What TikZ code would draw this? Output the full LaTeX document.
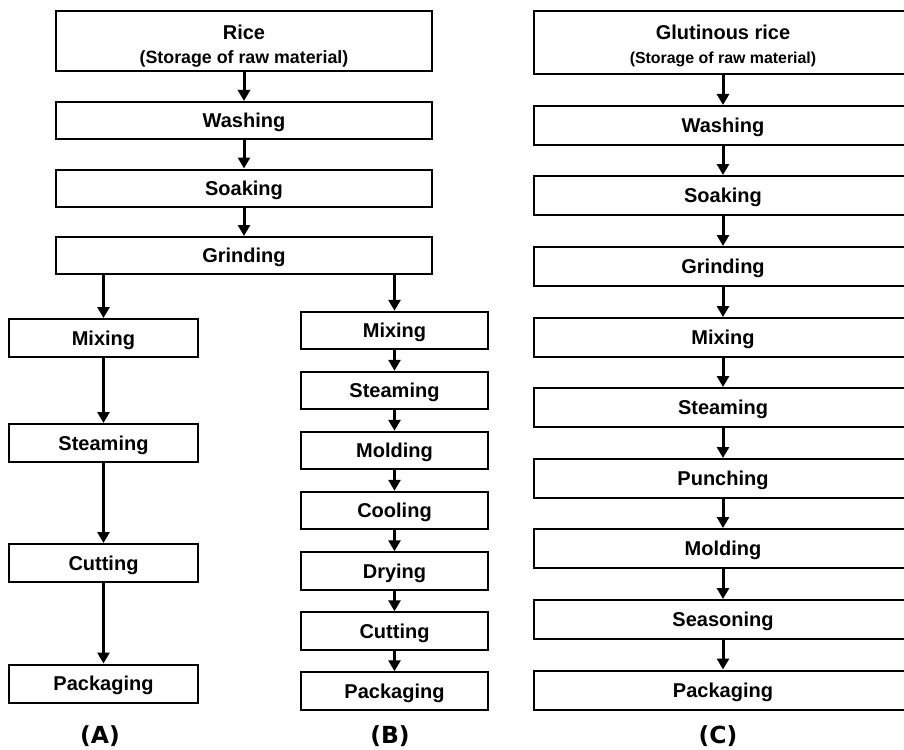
\documentclass[tikz,border=0pt]{standalone}
\usepackage{fontspec}
\setmainfont{Liberation Sans}
\newfontfamily\tagfont{DejaVu Sans}
\usetikzlibrary{arrows.meta}

\begin{document}
\begin{tikzpicture}[x=1pt, y=-1pt,
        box/.style={draw, line width=2pt, inner sep=0pt, text height=18pt, text depth=4pt,
            font=\bfseries\fontsize{20}{22}\selectfont},
        topbox/.style={draw, line width=2pt, inner sep=0pt, align=center,
            font=\bfseries\fontsize{20}{24}\selectfont},
        flow/.style={line width=3pt, -{Triangle[width=12pt,length=11pt]}},
        tag/.style={font=\tagfont\bfseries\fontsize{23.5}{26}\selectfont}]
        \clip (0,0) rectangle (904,749);
        % shared start of (A) and (B)
        \node[topbox, minimum width=376pt, minimum height=60pt] (rice) at (244,41)
            {\rule{0pt}{24pt}Rice\\{\fontsize{17.8}{18}\selectfont (Storage of raw material)}};
        \foreach \name/\txt/\y in {wash/Washing/120.5, soak/Soaking/188, grind/Grinding/255.5} {
            \node[box, minimum width=376pt, minimum height=37pt] (\name) at (244,\y) {\txt};
        }
        % (A)
        \foreach \name/\txt/\y in {amix/Mixing/338, asteam/Steaming/443, acut/Cutting/563, apack/Packaging/683.5} {
            \node[box, minimum width=189pt, minimum height=38pt] (\name) at (103.5,\y) {\txt};
        }
        % (B)
        \foreach \name/\txt/\y in {bmix/Mixing/330.5, bsteam/Steaming/390.5, bmold/Molding/450.5,
            bcool/Cooling/510.5, bdry/Drying/571, bcut/Cutting/631, bpack/Packaging/691} {
            \node[box, minimum width=187pt, minimum height=37.5pt] (\name) at (394.5,\y) {\txt};
        }
        % (C)
        \node[topbox, minimum width=378pt, minimum height=63pt] (crice) at (723,42.5)
            {\rule{0pt}{21pt}Glutinous rice\\{\fontsize{15.9}{16}\selectfont (Storage of raw material)}};
        \foreach \name/\txt/\y in {cwash/Washing/125.5, csoak/Soaking/195.5, cgrind/Grinding/266.5,
            cmix/Mixing/337.5, csteam/Steaming/407.5, cpunch/Punching/478.5, cmold/Molding/548.5,
            cseason/Seasoning/619.5, cpack/Packaging/690} {
            \node[box, minimum width=378pt, minimum height=39pt] (\name) at (723,\y) {\txt};
        }
        \foreach \a/\b in {rice/wash, wash/soak, soak/grind,
            amix/asteam, asteam/acut, acut/apack,
            bmix/bsteam, bsteam/bmold, bmold/bcool, bcool/bdry, bdry/bcut, bcut/bpack,
            crice/cwash, cwash/csoak, csoak/cgrind, cgrind/cmix, cmix/csteam, csteam/cpunch,
            cpunch/cmold, cmold/cseason, cseason/cpack} {
            \draw[flow] (\a) -- (\b);
        }
        \draw[flow] (grind.south -| amix) -- (amix);
        \draw[flow] (grind.south -| bmix) -- (bmix);
        % panel letters
        \node[tag] (taga) at (100,736) {(A)};
        \node[tag] (tagb) at (390,736) {(B)};
        \node[tag] (tagc) at (718,736) {(C)};
\end{tikzpicture}
\end{document}
